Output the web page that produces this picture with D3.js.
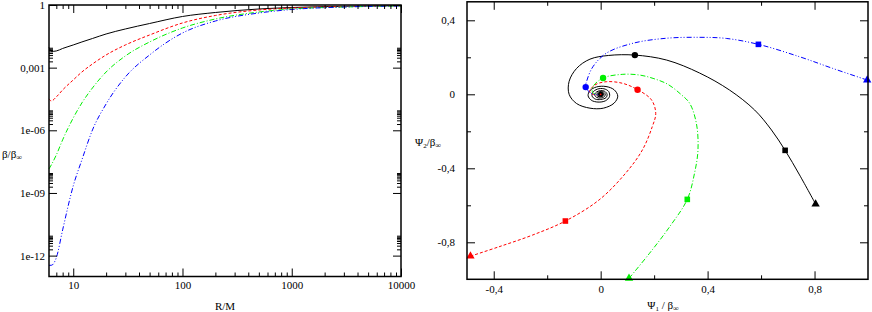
<!DOCTYPE html>
<html>
<head>
<meta charset="utf-8">
<script src="https://cdn.jsdelivr.net/npm/d3@7"></script>
<style>
body { margin: 0; background: #fff; }
text { font-family: "Liberation Serif", "Times New Roman", serif; fill: #000; }
</style>
</head>
<body>
<div id="chart"></div>
<script>
// ---- left panel: beta / beta_inf against R/M
const radius = [6, 6.3, 7, 8, 10, 12, 15, 20, 30, 50, 100, 200, 500, 1000, 3000, 10000];
const betaBlack = [9.3e-3, 6.0e-3, 6.3e-3, 8.3e-3, 0.0122, 0.017, 0.0249, 0.041, 0.0711, 0.130, 0.282, 0.438, 0.644, 0.759, 0.867, 0.935];
const betaRed = [3.2e-5, 2.55e-5, 3.96e-5, 8.6e-5, 2.58e-4, 6.2e-4, 1.5e-3, 4.06e-3, 0.0122, 0.0367, 0.138, 0.315, 0.577, 0.718, 0.847, 0.916];
const betaGreen = [1.42e-8, 2.2e-8, 6.6e-8, 3.5e-7, 3.9e-6, 2.05e-5, 1.07e-4, 6.2e-4, 3.63e-3, 0.017, 0.0794, 0.214, 0.462, 0.644, 0.802, 0.895];
const betaBlue = [3.44e-13, 3.44e-13, 7.9e-13, 1.71e-11, 2.19e-9, 3.84e-8, 1.04e-6, 1.83e-5, 3.59e-4, 4.06e-3, 0.0457, 0.171, 0.414, 0.61, 0.802, 0.895];

const xMajorLeft = [10, 100, 1000, 10000];
const xMinorLeft = [7, 8, 9, 20, 30, 40, 50, 60, 70, 80, 90, 200, 300, 400, 500, 600, 700, 800, 900, 2000, 3000, 4000, 5000, 6000, 7000, 8000, 9000];
const yMajorLeft = [1, 1e-3, 1e-6, 1e-9, 1e-12];
const yMajorLeftLabels = ["1", "0,001", "1e-06", "1e-09", "1e-12"];

// ---- right panel: Psi2 against Psi1 (both over beta_inf)
const pathBlack = [[0.804,-0.593],[0.744,-0.436],[0.690,-0.303],[0.639,-0.193],[0.576,-0.085],[0.482,0.023],[0.37,0.115],[0.247,0.185],[0.128,0.212],[0.03,0.21],[-0.04,0.19],[-0.09,0.14],[-0.118,0.07],[-0.118,0.0],[-0.09,-0.05],[-0.04,-0.075],[0.01,-0.075],[0.05,-0.048],[0.064,-0.01],[0.05,0.025],[0.02,0.042],[-0.015,0.04],[-0.04,0.02],[-0.047,-0.008],[-0.035,-0.032],[-0.01,-0.042],[0.018,-0.035],[0.033,-0.012],[0.03,0.015],[0.012,0.03],[-0.012,0.028],[-0.03,0.01],[-0.032,-0.01],[-0.02,-0.026],[0.0,-0.028],[0.02,-0.018],[0.024,0.0],[0.015,0.016],[0.0,0.02],[-0.016,0.012],[-0.022,-0.003],[-0.015,-0.017],[0,-0.02],[0.014,-0.012],[0.017,0.002],[0.009,0.013],[-0.004,0.014],[-0.013,0.006],[-0.014,-0.006],[-0.006,-0.013],[0.005,-0.012],[0.011,-0.003],[0.009,0.007],[0.001,0.01],[-0.007,0.006],[-0.009,-0.002],[-0.004,-0.008],[0.003,-0.007],[0.006,-0.001],[0.004,0.004],[0,0.005],[-0.003,0.002],[-0.002,-0.002],[0,0]];
const pathRed = [[-0.487,-0.875],[-0.38,-0.824],[-0.255,-0.761],[-0.132,-0.685],[-0.006,-0.571],[0.093,-0.427],[0.156,-0.301],[0.193,-0.175],[0.206,-0.103],[0.19,-0.03],[0.138,0.025],[0.083,0.059],[0.021,0.068],[-0.022,0.05],[-0.041,0.014],[-0.02,-0.004],[0,0]];
const pathGreen = [[0.106,-0.995],[0.183,-0.859],[0.258,-0.716],[0.324,-0.568],[0.351,-0.427],[0.364,-0.301],[0.358,-0.157],[0.333,-0.049],[0.3,0.0],[0.25,0.055],[0.196,0.086],[0.146,0.104],[0.083,0.108],[0.009,0.088],[-0.029,0.041],[-0.03,0.01],[-0.012,-0.002],[0,0]];
const pathBlue = [[0.997,0.077],[0.868,0.14],[0.744,0.203],[0.590,0.270],[0.47,0.302],[0.37,0.308],[0.246,0.303],[0.121,0.276],[0.021,0.222],[-0.029,0.149],[-0.051,0.077],[-0.056,0.039],[-0.04,0.01],[-0.015,-0.003],[0,0]];

// markers: triangle (start), square, circle for black, red, green, blue
const triangles = [[0.804,-0.593],[-0.487,-0.875],[0.106,-0.995],[0.997,0.077]];
const squares = [[0.690,-0.303],[-0.132,-0.685],[0.324,-0.568],[0.590,0.270]];
const circles = [[0.128,0.212],[0.138,0.025],[0.009,0.088],[-0.056,0.039]];

const xMajorRight = [-0.4, 0, 0.4, 0.8];
const xMinorRight = [-0.2, 0.2, 0.6];
const yMajorRight = [0.4, 0, -0.4, -0.8];
const yMinorRight = [0.2, -0.2, -0.6];

const colors = ["#000000", "#ff0000", "#00f000", "#0000ff"];
const dashes = [null, "3,2", "5,2,1,2", "5,2,1,2,1,2"];

const W = 872, H = 312;
const svg = d3.select("#chart").append("svg")
  .attr("width", W).attr("height", H);

const fmt = v => String(v).replace(".", ",");

// ========== left panel ==========
const xL = d3.scaleLog().domain([6, 10000]).range([49, 401]);
const yL = d3.scaleLog().domain([1e-13, 1]).range([276.5, 5]);

const left = svg.append("g");

const lineL = d3.line()
  .x(d => xL(d[0]))
  .y(d => yL(d[1]))
  .curve(d3.curveMonotoneX);

[betaBlack, betaRed, betaGreen, betaBlue].forEach(function(b, i) {
  left.append("path")
    .datum(radius.map((r, j) => [r, b[j]]))
    .attr("d", lineL)
    .attr("fill", "none")
    .attr("stroke", colors[i])
    .attr("stroke-width", 1)
    .attr("stroke-dasharray", dashes[i]);
});

function ticks(g, axis) {
  g.call(axis);
  g.select(".domain").remove();
  g.selectAll(".tick line").attr("stroke", "#000").attr("stroke-width", 1);
  g.selectAll(".tick text").attr("font-size", 11).attr("font-family", "Liberation Serif");
}

const minorMinorY = [];
[1e-12, 1e-9, 1e-6, 1e-3].forEach(m => { for (let k = 2; k <= 9; k++) minorMinorY.push(k * m); });

left.append("g").attr("transform", "translate(0,276.5)")
  .call(ticks, d3.axisBottom(xL).tickValues(xMajorLeft).tickSize(-8).tickPadding(5).tickFormat(d => d));
left.append("g").attr("transform", "translate(0,276.5)")
  .call(ticks, d3.axisBottom(xL).tickValues(xMinorLeft).tickSize(-4).tickFormat(""));
left.append("g").attr("transform", "translate(0,5)")
  .call(ticks, d3.axisTop(xL).tickValues(xMajorLeft).tickSize(-8).tickFormat(""));
left.append("g").attr("transform", "translate(0,5)")
  .call(ticks, d3.axisTop(xL).tickValues(xMinorLeft).tickSize(-4).tickFormat(""));

left.append("g").attr("transform", "translate(49,0)")
  .call(ticks, d3.axisLeft(yL).tickValues(yMajorLeft).tickSize(-8).tickPadding(4)
    .tickFormat((d, i) => yMajorLeftLabels[i]));
left.append("g").attr("transform", "translate(49,0)")
  .call(ticks, d3.axisLeft(yL).tickValues(minorMinorY).tickSize(-4).tickFormat(""));
left.append("g").attr("transform", "translate(401,0)")
  .call(ticks, d3.axisRight(yL).tickValues(yMajorLeft).tickSize(-8).tickFormat(""));
left.append("g").attr("transform", "translate(401,0)")
  .call(ticks, d3.axisRight(yL).tickValues(minorMinorY).tickSize(-4).tickFormat(""));

left.append("rect")
  .attr("x", 49).attr("y", 5).attr("width", 352).attr("height", 271.5)
  .attr("fill", "none").attr("stroke", "#000").attr("stroke-width", 1.5);

left.append("text").attr("x", 225).attr("y", 310).attr("text-anchor", "middle")
  .attr("font-size", 11).text("R/M");
const bl = left.append("text").attr("x", 2).attr("y", 158).attr("font-size", 11);
bl.append("tspan").text("β/β");
bl.append("tspan").attr("font-size", 8).attr("dy", 2).text("∞");

// ========== right panel ==========
const xR = d3.scaleLinear().domain([-0.5, 1.0]).range([467, 868]);
const yR = d3.scaleLinear().domain([-1.0, 0.5]).range([279.3, 1.8]);

const right = svg.append("g");

const lineR = d3.line()
  .x(d => xR(d[0]))
  .y(d => yR(d[1]))
  .curve(d3.curveCatmullRom.alpha(0.5));

[pathBlack, pathRed, pathGreen, pathBlue].forEach(function(p, i) {
  right.append("path")
    .datum(p)
    .attr("d", lineR)
    .attr("fill", "none")
    .attr("stroke", colors[i])
    .attr("stroke-width", 1)
    .attr("stroke-dasharray", dashes[i]);
});

right.append("circle").attr("cx", xR(0)).attr("cy", yR(0)).attr("r", 2.5).attr("fill", "#000");
right.append("circle").attr("cx", xR(0)).attr("cy", yR(0)).attr("r", 0.9).attr("fill", "#ff0000");

const tri = d3.symbol().type(d3.symbolTriangle).size(30);
right.selectAll(".tri").data(triangles).enter().append("path")
  .attr("transform", d => "translate(" + xR(d[0]) + "," + yR(d[1]) + ")")
  .attr("d", tri).attr("fill", (d, i) => colors[i]);
right.selectAll(".sq").data(squares).enter().append("rect")
  .attr("x", d => xR(d[0]) - 2.8).attr("y", d => yR(d[1]) - 2.8)
  .attr("width", 5.6).attr("height", 5.6).attr("fill", (d, i) => colors[i]);
right.selectAll(".dot").data(circles).enter().append("circle")
  .attr("cx", d => xR(d[0])).attr("cy", d => yR(d[1]))
  .attr("r", 3.2).attr("fill", (d, i) => colors[i]);

right.append("g").attr("transform", "translate(0,279.3)")
  .call(ticks, d3.axisBottom(xR).tickValues(xMajorRight).tickSize(-8).tickPadding(6).tickFormat(fmt));
right.append("g").attr("transform", "translate(0,279.3)")
  .call(ticks, d3.axisBottom(xR).tickValues(xMinorRight).tickSize(-4).tickFormat(""));
right.append("g").attr("transform", "translate(0,1.8)")
  .call(ticks, d3.axisTop(xR).tickValues(xMajorRight).tickSize(-8).tickFormat(""));
right.append("g").attr("transform", "translate(0,1.8)")
  .call(ticks, d3.axisTop(xR).tickValues(xMinorRight).tickSize(-4).tickFormat(""));
right.append("g").attr("transform", "translate(467,0)")
  .call(ticks, d3.axisLeft(yR).tickValues(yMajorRight).tickSize(-8).tickPadding(12).tickFormat(fmt));
right.append("g").attr("transform", "translate(467,0)")
  .call(ticks, d3.axisLeft(yR).tickValues(yMinorRight).tickSize(-4).tickFormat(""));
right.append("g").attr("transform", "translate(868,0)")
  .call(ticks, d3.axisRight(yR).tickValues(yMajorRight).tickSize(-8).tickFormat(""));
right.append("g").attr("transform", "translate(868,0)")
  .call(ticks, d3.axisRight(yR).tickValues(yMinorRight).tickSize(-4).tickFormat(""));

right.append("rect")
  .attr("x", 467).attr("y", 1.8).attr("width", 401).attr("height", 277.5)
  .attr("fill", "none").attr("stroke", "#000").attr("stroke-width", 1.5);

const bx = right.append("text").attr("x", 663).attr("y", 309).attr("text-anchor", "middle").attr("font-size", 11);
bx.append("tspan").text("Ψ");
bx.append("tspan").attr("font-size", 7).attr("dy", 2).text("1");
bx.append("tspan").attr("dy", -2).text(" / β");
bx.append("tspan").attr("font-size", 8).attr("dy", 2).text("∞");

const by = right.append("text").attr("x", 415).attr("y", 146).attr("font-size", 11);
by.append("tspan").text("Ψ");
by.append("tspan").attr("font-size", 7).attr("dy", 2).text("2");
by.append("tspan").attr("dy", -2).text("/β");
by.append("tspan").attr("font-size", 8).attr("dy", 2).text("∞");
</script>
</body>
</html>
